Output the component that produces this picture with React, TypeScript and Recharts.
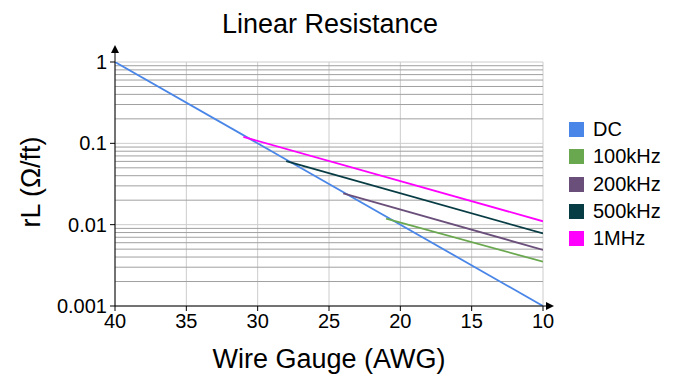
import React from "react"
import { LineChart, Line, XAxis, YAxis, CartesianGrid, ReferenceLine } from "recharts"

// wire gauge (AWG) and resistance per foot
const dcAwg = [40, 10]
const dcOhms = [1, 0.001]
const k100Awg = [21, 10]
const k100Ohms = [0.0119, 0.0035]
const k200Awg = [24, 10]
const k200Ohms = [0.0243, 0.0049]
const k500Awg = [28, 10]
const k500Ohms = [0.0605, 0.0078]
const m1Awg = [31, 10]
const m1Ohms = [0.12, 0.011]

const xTicks = [40, 35, 30, 25, 20, 15, 10]
const yTicks = [0.001, 0.01, 0.1, 1]
const minorTicks = [
  0.002, 0.003, 0.004, 0.005, 0.006, 0.007, 0.008, 0.009,
  0.02, 0.03, 0.04, 0.05, 0.06, 0.07, 0.08, 0.09,
  0.2, 0.3, 0.4, 0.5, 0.6, 0.7, 0.8, 0.9,
]

const toPoints = (awg: number[], ohms: number[]) => awg.map((a, i) => ({ awg: a, r: ohms[i] }))

const series = [
  { name: "DC", color: "#4a86e8", data: toPoints(dcAwg, dcOhms) },
  { name: "100kHz", color: "#6aa84f", data: toPoints(k100Awg, k100Ohms) },
  { name: "200kHz", color: "#6b4f7b", data: toPoints(k200Awg, k200Ohms) },
  { name: "500kHz", color: "#083c44", data: toPoints(k500Awg, k500Ohms) },
  { name: "1MHz", color: "#ff00ff", data: toPoints(m1Awg, m1Ohms) },
]

const font = '"Liberation Sans", Arial, sans-serif'
const tickStyle = { fontSize: 20, fill: "#000", fontFamily: font }

export default function App() {
  return (
    <div style={{ position: "absolute", left: 0, top: 0, width: 679, height: 389, background: "#fff", fontFamily: font }}>
      <LineChart width={679} height={389} margin={{ top: 62, right: 136, bottom: 0, left: 0 }}>
        <CartesianGrid stroke="#cccccc" />
        {minorTicks.map((v) => (
          <ReferenceLine key={v} y={v} stroke="#a0a0a0" strokeWidth={1} />
        ))}
        <XAxis
          dataKey="awg"
          type="number"
          domain={[10, 40]}
          reversed
          ticks={xTicks}
          height={83}
          tick={tickStyle}
          tickSize={5}
          tickMargin={3}
          axisLine={{ stroke: "#000" }}
          tickLine={{ stroke: "#000" }}
          allowDataOverflow
        />
        <YAxis
          dataKey="r"
          type="number"
          scale="log"
          domain={[0.001, 1]}
          ticks={yTicks}
          width={115}
          tick={tickStyle}
          tickSize={5}
          tickMargin={3}
          axisLine={{ stroke: "#000" }}
          tickLine={{ stroke: "#000" }}
          tickFormatter={(v) => String(v)}
          allowDataOverflow
        />
        {series.map((s) => (
          <Line
            key={s.name}
            data={s.data}
            dataKey="r"
            name={s.name}
            stroke={s.color}
            strokeWidth={1.8}
            dot={false}
            isAnimationActive={false}
          />
        ))}
      </LineChart>

      <svg width={679} height={389} style={{ position: "absolute", left: 0, top: 0, pointerEvents: "none" }}>
        <line x1={115} y1={62} x2={115} y2={50} stroke="#000" />
        <polygon points="115,45 111,53 119,53" fill="#000" />
        <line x1={543} y1={306} x2={548} y2={306} stroke="#000" />
        <polygon points="554,306 546,302 546,310" fill="#000" />
      </svg>

      <div style={{ position: "absolute", left: 0, width: 660, top: 9, textAlign: "center", fontSize: 27, color: "#000" }}>
        Linear Resistance
      </div>
      <div style={{ position: "absolute", left: 115, width: 428, top: 344, textAlign: "center", fontSize: 27, color: "#000" }}>
        Wire Gauge (AWG)
      </div>
      <div
        style={{
          position: "absolute",
          left: 31,
          top: 182,
          transform: "translate(-50%, -50%) rotate(-90deg)",
          whiteSpace: "nowrap",
          fontSize: 27,
          color: "#000",
        }}
      >
        rL (Ω/ft)
      </div>

      <div style={{ position: "absolute", left: 569, top: 116 }}>
        {series.map((s) => (
          <div key={s.name} style={{ display: "flex", alignItems: "center", height: 27.3, fontSize: 20, color: "#000" }}>
            <span style={{ width: 15, height: 15, background: s.color, marginRight: 9, display: "inline-block" }} />
            {s.name}
          </div>
        ))}
      </div>
    </div>
  )
}
